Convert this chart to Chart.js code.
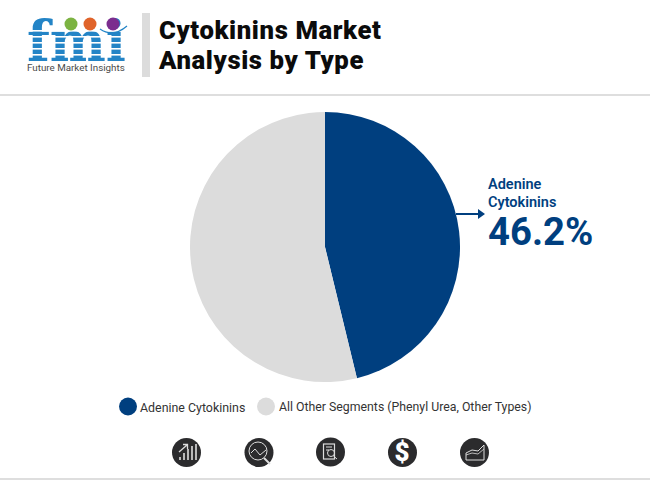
<!DOCTYPE html>
<html><head><meta charset="utf-8">
<script src="https://cdn.jsdelivr.net/npm/chart.js@4/dist/chart.umd.min.js"></script>
<style>
html,body{margin:0;padding:0;background:#fff;width:650px;height:480px;overflow:hidden;font-family:Roboto,sans-serif}
.a{position:absolute;white-space:nowrap}
</style></head><body>
<svg class="a" style="left:0;top:0" width="650" height="480">
  <rect x="142" y="13" width="8" height="64" fill="#dcdcdc"/>
  <rect x="0" y="94" width="650" height="2" fill="#dedede"/>
  <rect x="0" y="478" width="650" height="2" fill="#dedede"/>
  <!-- logo -->
  <text x="27" y="61" font-family="'DejaVu Serif','Liberation Serif',serif" font-weight="700" font-size="56" fill="#2384c6" textLength="99" lengthAdjust="spacingAndGlyphs">fmi</text>
  <g fill="#fff"><rect x="24" y="30" width="104" height="1.6"/><rect x="24" y="36" width="104" height="1.6"/><rect x="24" y="42" width="104" height="1.6"/><rect x="24" y="48" width="104" height="1.6"/><rect x="24" y="54" width="104" height="1.6"/></g>
  <circle cx="71" cy="24" r="6.5" fill="#7cb342"/><circle cx="90" cy="24" r="6.5" fill="#e0632a"/><circle cx="113" cy="24" r="6.5" fill="#7b2d8e"/>
  <path d="M100 29 Q113 38 127 26" fill="none" stroke="#2384c6" stroke-width="1.2"/>
  <!-- arrow -->
  <rect x="456" y="213" width="25" height="2" fill="#003f7f"/>
  <path d="M478 209 L485 214 L478 219 Z" fill="#003f7f"/>
  <!-- legend -->
  <circle cx="128" cy="406.500" r="9" fill="#003f7f"/><circle cx="266" cy="406.500" r="9" fill="#dcdcdc"/>
  <!-- icons -->
  <g fill="#2b2b2d"><circle cx="186.500" cy="452.500" r="14.500"/><circle cx="259" cy="452.500" r="14.500"/><circle cx="330.500" cy="452" r="14.500"/><circle cx="402.500" cy="452.500" r="14.500"/><circle cx="474.500" cy="452.500" r="14.500"/></g>
  <g stroke="#ddd" fill="none">
    <path d="M180 460V457M184 460V453M188 460V449M192 460V446M196 460V444" stroke-width="1.6"/>
    <path d="M179 452L187 445M183 444.500H187.500V449" stroke-width="1.3"/>
    <path d="M251 453L255 449L260 455L266 450" stroke-width="1"/><circle cx="258" cy="451" r="9" stroke-width="1"/><path d="M264 458L270 464" stroke-width="2"/>
    <rect x="323.500" y="444" width="11" height="15" stroke-width="1.200"/><circle cx="331" cy="453" r="3.500" stroke-width="1"/><path d="M326 447H332M326 450H329M333.500 456L337 459"/>
    <path d="M466 460V453L472 450L478 451L484 445V460Z" stroke-width="1"/><path d="M466 455L472 453L478 454L484 449" stroke-width=".8"/>
  </g>
</svg>
<div class="a" style="left:159px;top:15px;font:900 25.700px/30px Roboto,sans-serif;letter-spacing:.6px;color:#0b0b0b">Cytokinins Market<br>Analysis by Type</div>
<div class="a" style="left:27px;top:62px;font:400 9.800px/12px Roboto,sans-serif;color:#4a4a4a">Future Market Insights</div>
<div class="a" style="left:488px;top:176px;font:600 14.500px/18px Roboto,sans-serif;color:#003f7f">Adenine<br>Cytokinins</div>
<div class="a" style="left:488px;top:210px;font:700 38.300px/44px Roboto,sans-serif;color:#003f7f">46.2%</div>
<div class="a" style="left:140px;top:398.500px;font:400 12.400px/17px Roboto,sans-serif;color:#333">Adenine Cytokinins</div>
<div class="a" style="left:279px;top:398.500px;font:400 12.300px/17px Roboto,sans-serif;color:#333">All Other Segments (Phenyl Urea, Other Types)</div>
<div class="a" style="left:394.500px;top:436px;font:900 26px/32px Roboto,sans-serif;color:#fff">$</div>
<div class="a" style="left:190px;top:112px;width:270px;height:270px"><canvas id="c"></canvas></div>
<script>
const categories = ["Adenine Cytokinins", "All Other Segments (Phenyl Urea, Other Types)"];
const shares = [46.2, 53.8];
const colors = ["#003f7f", "#dcdcdc"];
new Chart(document.getElementById('c'), {
  type: 'pie',
  data: { labels: categories, datasets: [{ data: shares, backgroundColor: colors, borderWidth: 0 }] },
  options: { responsive: true, maintainAspectRatio: false, animation: false,
    layout: { padding: 0 },
    plugins: { legend: { display: false }, tooltip: { enabled: false } } }
});
</script>
</body></html>
